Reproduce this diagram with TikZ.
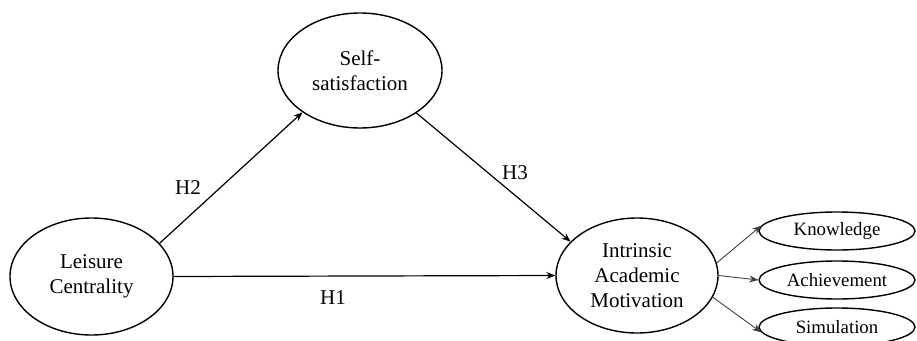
\documentclass[tikz,border=0pt]{standalone}
\usepackage{fontspec}
\setmainfont{Liberation Serif}
\usetikzlibrary{shapes.geometric,arrows.meta}
\begin{document}
\begin{tikzpicture}[x=1pt,y=-1pt,
  construct/.style={draw=black,line width=1.4pt,ellipse,inner sep=0pt,align=center,
    font=\fontsize{21}{25}\selectfont},
  indicator/.style={draw=black,line width=1.4pt,ellipse,inner sep=0pt,minimum width=156pt,minimum height=38pt,
    font=\fontsize{18.8}{22}\selectfont},
  path/.style={line width=1.2pt,-{Stealth[length=9pt,width=7pt]}},
  thinpath/.style={line width=0.9pt,draw=black!75,-{Stealth[length=9pt,width=7pt]}},
  hlabel/.style={font=\fontsize{21}{25}\selectfont,inner sep=0pt}]
\useasboundingbox (0,0) rectangle (917,340);
\node[construct,minimum width=163pt,minimum height=117pt] (L) at (91.5,276.5) {Leisure\\Centrality};
\node[construct,minimum width=164pt,minimum height=115pt] (S) at (360,70.5) {Self-\\satisfaction};
\node[construct,minimum width=162pt,minimum height=115pt] (I) at (637,275.5) {Intrinsic\\Academic\\Motivation};
\node[indicator] (K) at (837,231) {Knowledge};
\node[indicator] (A) at (837,280) {Achievement};
\node[indicator] (M) at (837,327) {Simulation};
\draw[path] (L.26) -- (S.216.7);
\draw[path] (S.323.8) -- (I.153.8);
\draw[path] (L.east) -- (I.west);
\draw[thinpath] (I.9.6) -- (K.176);
\draw[thinpath] (I.east) -- (A.west);
\draw[thinpath] (I.344.6) -- (M.184);
\node[hlabel] (h2) at (188,188) {H2};
\node[hlabel] (h3) at (515,173) {H3};
\node[hlabel] (h1) at (333,298) {H1};
\end{tikzpicture}
\end{document}
